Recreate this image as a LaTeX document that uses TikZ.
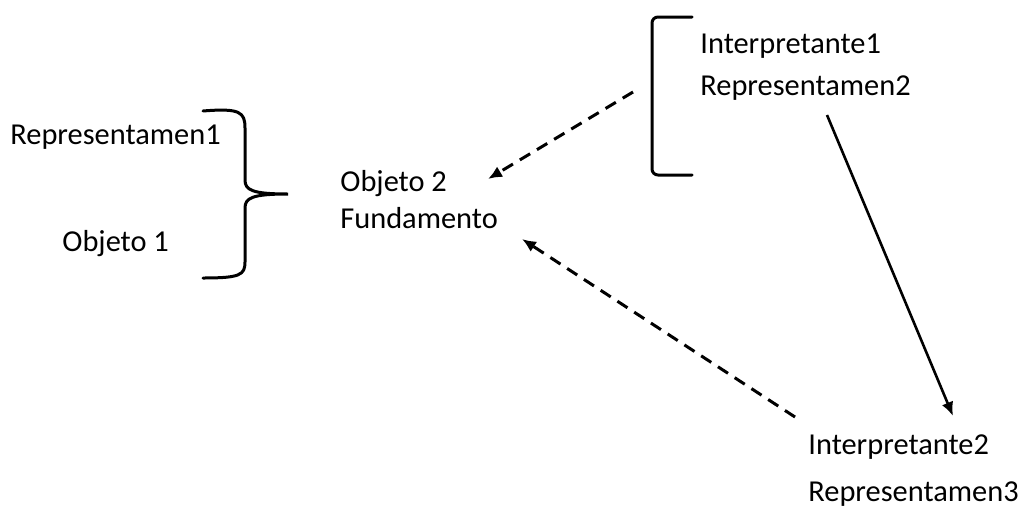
\documentclass[tikz,border=0pt]{standalone}
\usepackage{fontspec}
\setmainfont{Carlito}
\usetikzlibrary{arrows.meta,positioning}
\tikzset{
  label/.style={
    anchor=west,
    inner sep=0pt,
    font=\fontsize{15.2}{18}\selectfont
  },
  dasharrow/.style={
    -{Latex[length=7pt,width=6pt]},
    line width=1.5pt,
    dash pattern=on 6pt off 4pt
  },
  solidarrow/.style={
    -{Latex[length=7pt,width=6pt]},
    line width=1.3pt
  },
  bracket/.style={
    line width=1.5pt,
    line cap=round
  }
}
\begin{document}
\begin{tikzpicture}[x=0.5pt, y=-0.5pt]
  \useasboundingbox (0,0) rectangle (1028,509);

  % left group
  \node[label] (rep1) at (10,137) {Representamen1};
  \node[label] (obj1) at (62,244) {Objeto 1};
  \draw[bracket] (203,111) .. controls (240,108) and (245,112) .. (245,128)
    -- (245,180) .. controls (245,190) and (252,194) .. (288,194)
    .. controls (252,194) and (245,198) .. (245,208)
    -- (245,262) .. controls (245,275) and (240,278) .. (203,278);

  % centre
  \node[label] (obj2) at (340,184) {Objeto 2};
  \node[label] (fund) at (340,218) {Fundamento};

  % top right group
  \node[label] (int1) at (700,46) {Interpretante1};
  \node[label] (rep2) at (700,88) {Representamen2};
  \draw[bracket, rounded corners=3pt] (692,17) -- (652,17) -- (652,175) -- (692,175);

  % bottom right
  \node[label] (int2) at (808,447) {Interpretante2};
  \node[label] (rep3) at (808,494) {Representamen3};

  \coordinate (a1) at (633,92);
  \coordinate (b1) at (488,179);
  \coordinate (a2) at (795,417);
  \coordinate (b2) at (522,239);
  \coordinate (a3) at (827,115);
  \coordinate (b3) at (953,416);

  \draw[dasharrow] (a1) -- (b1);
  \draw[dasharrow] (a2) -- (b2);
  \draw[solidarrow] (a3) -- (b3);
\end{tikzpicture}
\end{document}
